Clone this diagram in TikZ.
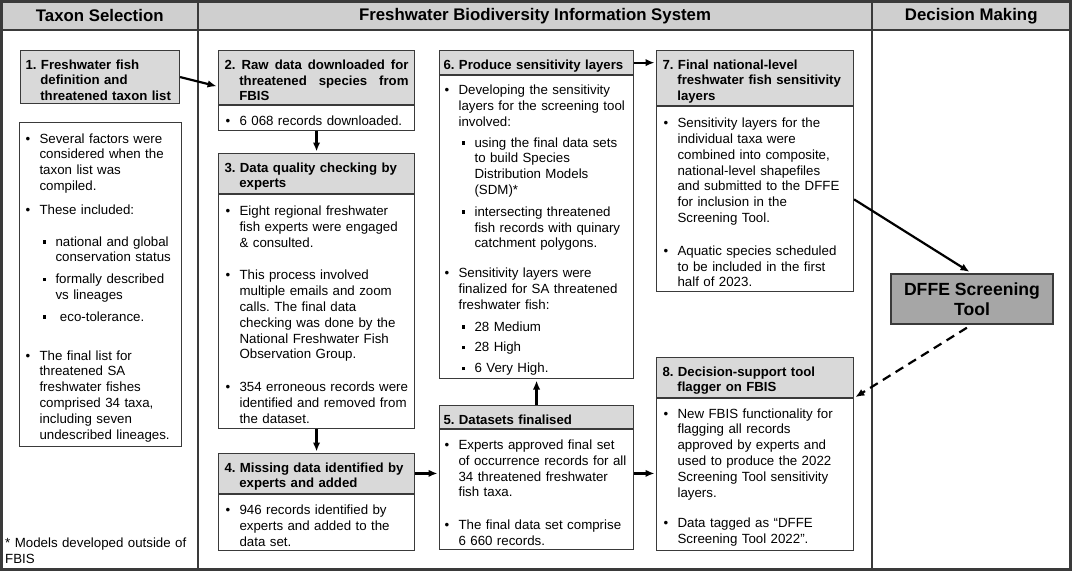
\documentclass[tikz,border=0pt]{standalone}
\usepackage{fontspec}
\setmainfont{Liberation Sans}
\usepackage{tikz}
\usetikzlibrary{arrows.meta, positioning}
\definecolor{Ink}{HTML}{000000}
\definecolor{Rule}{HTML}{3A3A3A}
\definecolor{HeadGrey}{HTML}{CFCFCF}
\definecolor{CardGrey}{HTML}{D9D9D9}
\definecolor{ToolGrey}{HTML}{A6A6A6}
\frenchspacing

% bullet levels inside the cards
\newcommand{\fbul}[1]{\par\noindent\hangindent=15pt\hangafter=1\makebox[15pt][l]{\hspace{1pt}\textbullet}#1\par}
\newcommand{\fsub}[1]{\par\noindent\hangindent=31pt\hangafter=1\makebox[31pt][l]{\hspace{18pt}\rule[2.5pt]{3.6pt}{3.6pt}}#1\par}
\newcommand{\fgap}[1]{\vspace{#1pt}}
\newcommand{\ftitle}[1]{\par\noindent\hangindent=14.8pt\hangafter=1 #1\par}

\begin{document}
\begin{tikzpicture}[
  x=1pt, y=-1pt,
  font=\fontsize{13.3}{15.8}\selectfont,
  lane/.style={draw=Rule, line width=2.6pt},
  colhead/.style={draw=Rule, line width=2.6pt, fill=HeadGrey, minimum height=28.5pt, inner sep=0pt, font=\bfseries\fontsize{16.8}{20}\selectfont},
  card/.style={draw=Rule, line width=1.1pt, inner xsep=6pt, inner ysep=3pt, anchor=north west, align=left},
  titlebox/.style={card, fill=CardGrey, font=\bfseries\fontsize{13.2}{15.5}\selectfont},
  bodybox/.style={card, fill=white},
  toolbox/.style={draw=Rule, line width=1.1pt, fill=ToolGrey, align=center, minimum width=162pt, minimum height=50pt, font=\bfseries\fontsize{17.6}{20}\selectfont},
  col2/.style={minimum width=196pt, text width=184pt, inner xsep=6pt},
  col3/.style={minimum width=194pt, text width=186pt, inner xsep=4pt},
  col4/.style={minimum width=197pt, text width=185pt, inner xsep=6pt},
  flow/.style={-{Latex[length=9pt, width=7.5pt]}, line width=2.2pt, draw=Ink, shorten >=1.5pt}
]
\useasboundingbox (0,0) rectangle (1072,571);

% lanes and headers
\draw[lane] (1.5,30) rectangle (198,569.5);
\draw[lane] (198,30) rectangle (872,569.5);
\draw[lane] (872,30) rectangle (1070.5,569.5);
\node[colhead, minimum width=196.5pt] (hTaxon) at (99.75,15.75) {Taxon Selection};
\node[colhead, minimum width=674pt] (hFBIS) at (535,15.75) {Freshwater Biodiversity Information System};
\node[colhead, minimum width=198.5pt] (hDecision) at (971.25,15.75) {Decision Making};

% taxon selection
\node[titlebox, minimum width=159pt, minimum height=53pt, text width=149pt, inner xsep=5pt] (t1) at (20,50)
  {\ftitle{1. Freshwater fish\newline definition and\newline threatened taxon list}};
\node[bodybox, minimum width=162pt, minimum height=324pt, text width=152pt, inner xsep=5pt] (b1) at (19,122)
  {\fbul{Several factors were\newline considered when the\newline taxon list was\newline compiled.}\fgap{8}%
   \fbul{These included:}\fgap{16}%
   \fsub{national and global\newline conservation status}\fgap{6}%
   \fsub{formally described\newline vs lineages}\fgap{6}%
   \fsub{\ eco-tolerance.}\fgap{23}%
   \fbul{The final list for\newline threatened SA\newline freshwater fishes\newline comprised 34 taxa,\newline including seven\newline undescribed lineages.}};
\node[anchor=north west, align=left, inner sep=0pt, text width=190pt] (note) at (5,538)
  {* Models developed outside of\newline FBIS};

% FBIS column 2
\node[titlebox, col2, align=justify, minimum height=54pt] (t2) at (218,50)
  {\ftitle{2. Raw data downloaded for\linebreak threatened species from\linebreak FBIS}};
\node[bodybox, col2, below=0pt of t2, minimum height=25pt] (b2)
  {\fbul{6 068 records downloaded.}};
\node[titlebox, col2, minimum height=40pt] (t3) at (218,153)
  {\ftitle{3. Data quality checking by\newline experts}};
\node[bodybox, col2, below=0pt of t3, minimum height=234pt] (b3)
  {\fbul{Eight regional freshwater\newline fish experts were engaged\newline \& consulted.}\fgap{17}%
   \fbul{This process involved\newline multiple emails and zoom\newline calls. The final data\newline checking was done by the\newline National Freshwater Fish\newline Observation Group.}\fgap{17}%
   \fbul{354 erroneous records were\newline identified and removed from\newline the dataset.}};
\node[titlebox, col2, minimum height=39pt] (t4) at (218,453)
  {\ftitle{4. Missing data identified by\newline experts and added}};
\node[bodybox, col2, below=0pt of t4, minimum height=56pt] (b4)
  {\fbul{946 records identified by\newline experts and added to the\newline data set.}};

% FBIS column 3
\node[titlebox, col3, minimum height=23pt] (t6) at (439,50)
  {\ftitle{6. Produce sensitivity layers}};
\node[bodybox, col3, below=0pt of t6, minimum height=301pt] (b6)
  {\fbul{Developing the sensitivity\newline layers for the screening tool\newline involved:}\fgap{5}%
   \fsub{using the final data sets\newline to build Species\newline Distribution Models\newline (SDM)*}\fgap{6}%
   \fsub{intersecting threatened\newline fish records with quinary\newline catchment polygons.}\fgap{14}%
   \fbul{Sensitivity layers were\newline finalized for SA threatened\newline freshwater fish:}\fgap{6}%
   \fsub{28 Medium}\fgap{5}%
   \fsub{28 High}\fgap{5}%
   \fsub{6 Very High.}};
\node[titlebox, col3, minimum height=23pt] (t5) at (439,405)
  {\ftitle{5. Datasets finalised}};
\node[bodybox, col3, below=0pt of t5, minimum height=120pt] (b5)
  {\fbul{Experts approved final set\newline of occurrence records for all\newline 34 threatened freshwater\newline fish taxa.}\fgap{17}%
   \fbul{The final data set comprise\newline 6 660 records.}};

% FBIS column 4
\node[titlebox, col4, minimum height=55pt] (t7) at (656,50)
  {\ftitle{7. Final national-level\newline freshwater fish sensitivity\newline layers}};
\node[bodybox, col4, below=0pt of t7, minimum height=185pt] (b7)
  {\fbul{Sensitivity layers for the\newline individual taxa were\newline combined into composite,\newline national-level shapefiles\newline and submitted to the DFFE\newline for inclusion in the\newline Screening Tool.}\fgap{17}%
   \fbul{Aquatic species scheduled\newline to be included in the first\newline half of 2023.}};
\node[titlebox, col4, minimum height=39pt] (t8) at (656,357)
  {\ftitle{8. Decision-support tool\newline flagger on FBIS}};
\node[bodybox, col4, below=0pt of t8, minimum height=152pt] (b8)
  {\fbul{New FBIS functionality for\newline flagging all records\newline approved by experts and\newline used to produce the 2022\newline Screening Tool sensitivity\newline layers.}\fgap{15}%
   \fbul{Data tagged as “DFFE\newline Screening Tool 2022”.}};

% decision making
\node[toolbox] (tool) at (972,299) {DFFE Screening\\Tool};

% connectors
\draw[flow] (t1.east) -- ([yshift=-9pt]t2.west);
\draw[flow] (b2.south) -- (t3.north);
\draw[flow] (b3.south) -- (t4.north);
\draw[flow] (t4.east) -- (t4.east -| b5.west);
\draw[flow] (t5.north) -- (b6.south);
\draw[flow] (t6.east) -- (t6.east -| t7.west);
\draw[flow] (t4.east -| b5.east) -- (t4.east -| b8.west);
\draw[flow, shorten >=3pt] (b7.east) -- (tool.north);
\draw[flow, dash pattern=on 9pt off 6pt, shorten <=6pt] (tool.south) -- (b8.north east);
\end{tikzpicture}
\end{document}
